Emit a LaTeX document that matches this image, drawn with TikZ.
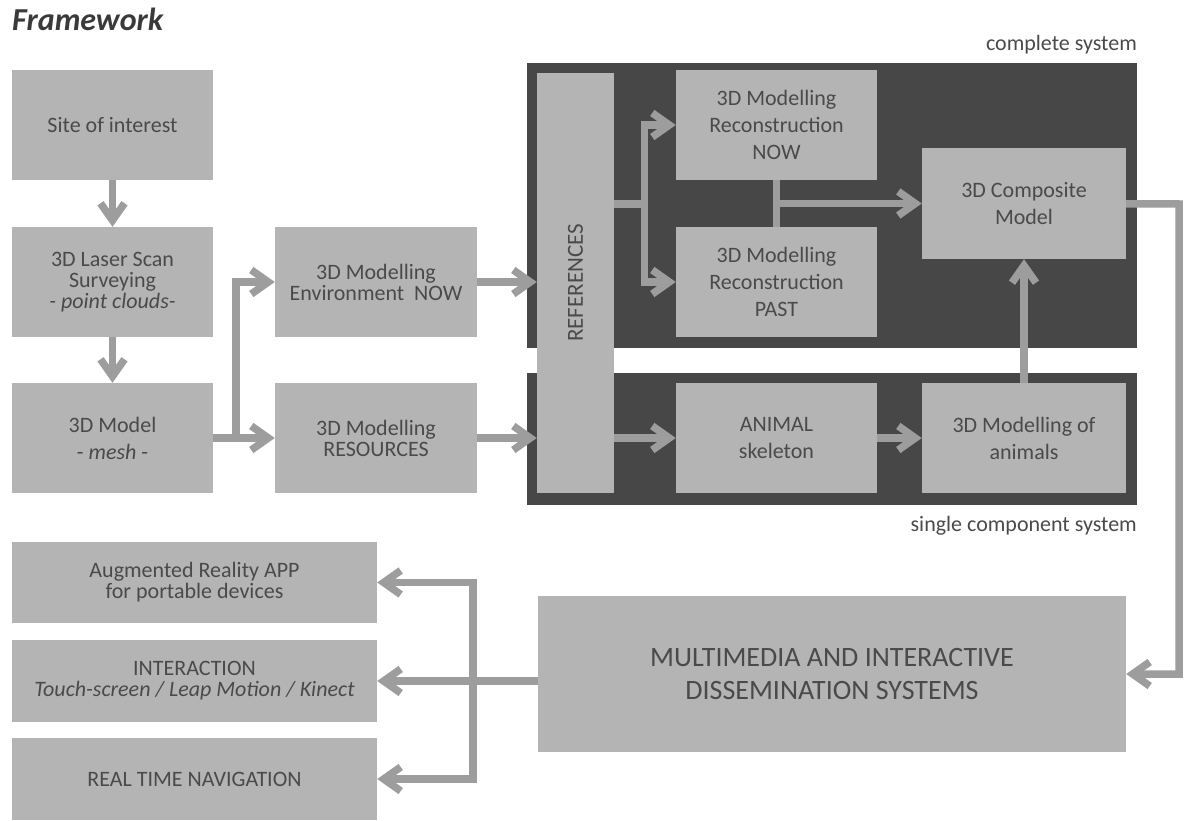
\documentclass[tikz,border=0pt]{standalone}
\usepackage{fontspec}
\setmainfont{Carlito}
\usetikzlibrary{arrows.meta,positioning}
\definecolor{boxgrey}{HTML}{B4B4B4}
\definecolor{panelgrey}{HTML}{474747}
\definecolor{linkgrey}{HTML}{9D9D9D}
\definecolor{textgrey}{HTML}{4A4A4A}
\definecolor{titlegrey}{HTML}{3A3A3A}

\begin{document}
\begin{tikzpicture}[x=1pt,y=-1pt,node distance=157pt,>={Straight Barb[length=17pt,width=24pt,sharp]},
	  main box/.style={fill=boxgrey,inner sep=0pt,minimum width=201pt,minimum height=110pt,align=center,text=textgrey,font=\fontsize{22}{27}\selectfont},
	  tight box/.style={main box,font=\fontsize{22}{21}\selectfont},
	  panel/.style={fill=panelgrey,inner sep=0pt,minimum width=610pt},
	  side label/.style={anchor=base east,inner sep=0pt,text=textgrey,font=\fontsize{22}{27}\selectfont},
	  link/.style={color=linkgrey,line width=7.5pt}]

		\useasboundingbox (0,0) rectangle (1184,821);

		\node[anchor=base west,inner sep=0pt,text=titlegrey,font=\fontsize{32}{36}\selectfont\bfseries\itshape] (title) at (12,31) {Framework};

		\node[panel,minimum height=285pt] (complete) at (832,205.5) {};
		\node[panel,minimum height=132pt] (single) at (832,439) {};
		\node[side label] (completelabel) at (1137,51) {complete system};
		\node[side label] (singlelabel) at (1137,531) {single component system};

		\node[main box] (site) at (112.5,125) {Site of interest};
		\node[tight box] (scan) [below of=site] {3D Laser Scan\\Surveying\\\textit{- point clouds-}};
		\node[main box] (model) [node distance=156pt,below of=scan] {3D Model\\- \textit{mesh} -};
		\node[tight box,minimum width=202pt] (envnow) [node distance=263.5pt,right of=scan] {3D Modelling\\Environment\ \ NOW};
		\node[tight box,minimum width=202pt] (resources) [node distance=263.5pt,right of=model] {3D Modelling\\RESOURCES};

		\node[main box,minimum width=77pt,minimum height=420pt,
		  label={[rotate=90,text=textgrey,font=\fontsize{23}{27}\selectfont]center:REFERENCES}] (refs) at (575.5,283) {};
		\node[main box] (reconnow) at (776.5,125) {3D Modelling\\Reconstruction\\NOW};
		\node[main box] (reconpast) [below of=reconnow] {3D Modelling\\Reconstruction\\PAST};
		\node[main box,minimum width=204pt,minimum height=111pt] (composite) at (1024,203.5) {3D Composite\\Model};
		\node[main box] (skeleton) at (776.5,438) {ANIMAL\\skeleton};
		\node[main box,minimum width=204pt] (animals) [node distance=247.5pt,right of=skeleton] {3D Modelling of\\animals};

		\node[main box,minimum width=588pt,minimum height=156pt,font=\fontsize{28}{33}\selectfont] (multimedia) at (832,674) {MULTIMEDIA AND INTERACTIVE\\DISSEMINATION SYSTEMS};
		\node[tight box,minimum width=365pt,minimum height=81pt] (arapp) at (194.5,582.5) {Augmented Reality APP\\for portable devices};
		\node[tight box,minimum width=365pt,minimum height=82pt] (interaction) [node distance=98.5pt,below of=arapp] {INTERACTION\\\textit{Touch-screen / Leap Motion / Kinect}};
		\node[tight box,minimum width=365pt,minimum height=82pt] (navigation) [node distance=98pt,below of=interaction] {REAL TIME NAVIGATION};

		\coordinate (modelsplit) at (236,438);
		\coordinate (refsplit) at (644.5,204);
		\coordinate (rightbus) at (1179,204);
		\coordinate (leftbus) at (473,681);

	\path[link,->]
		(site) edge (scan)
		(scan) edge (model)
		(model) edge (resources)
		(envnow) edge (envnow -| refs.west)
		(resources) edge (resources -| refs.west)
		(refs.east |- skeleton) edge (skeleton)
		(skeleton) edge (animals)
		(animals) edge (composite)
		(reconnow.south |- composite) edge (composite)
		(multimedia.west |- interaction) edge (interaction);

	\draw[link,->] (modelsplit) |- (envnow);
	\draw[link] (refs.east |- refsplit) -- (refsplit);
	\draw[link,->] (refsplit) |- (reconnow);
	\draw[link,->] (refsplit) |- (reconpast);
	\draw[link] (reconnow) -- (reconpast);
	\draw[link,->] (composite) -- (rightbus) |- (multimedia);
	\draw[link,->] (leftbus) |- (arapp);
	\draw[link,->] (leftbus) |- (navigation);

	\end{tikzpicture}
\end{document}
